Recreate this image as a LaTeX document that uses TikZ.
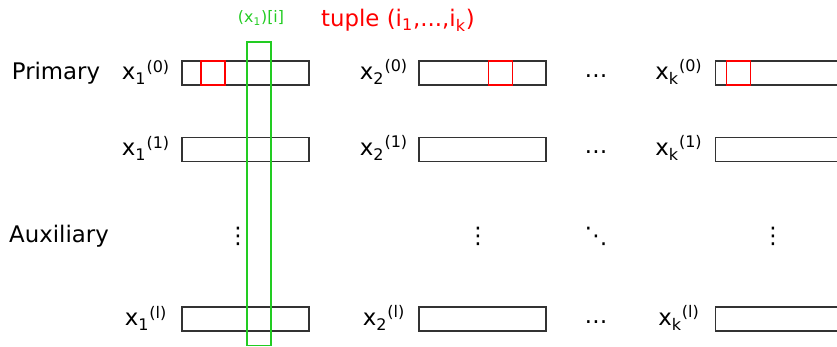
\documentclass[tikz,border=0pt]{standalone}
\usepackage{fontspec}
\setmainfont{DejaVu Sans}
\usepackage{tikz}
\definecolor{greenHTML}{HTML}{22CC22}
\definecolor{redHTML}{HTML}{FF0000}
\tikzset{
  share_box/.style={rectangle, draw=black!80, line width=0.6pt, minimum width=2.54cm, minimum height=0.48cm, inner sep=0pt},
  red_cell/.style={rectangle, draw=redHTML, line width=0.6pt, minimum width=0.48cm, minimum height=0.48cm, inner sep=0pt},
  green_col/.style={rectangle, draw=greenHTML, line width=0.6pt, minimum width=0.48cm, minimum height=6.08cm, inner sep=0pt},
  big_text/.style={font=\fontsize{13}{15}\selectfont, inner sep=0pt},
  small_text/.style={font=\fontsize{9}{11}\selectfont, inner sep=0pt}
}

\begin{document}
\begin{tikzpicture}[x=0.02cm, y=-0.02cm]
        \useasboundingbox (0, 0) rectangle (837, 347);
        \clip (0, 0) rectangle (837, 347);
        \node[big_text] (prim) at (56, 73) {Primary};
        \node[big_text] (aux) at (59, 236) {Auxiliary};
        \node[big_text] (l10) at (146, 72) {x\textsubscript{1}\textsuperscript{(0)}};
        \node[big_text] (l11) at (146, 148) {x\textsubscript{1}\textsuperscript{(1)}};
        \node[big_text] (l1l) at (146, 318) {x\textsubscript{1}\textsuperscript{(l)}};
        \node[big_text] (l20) at (384, 72) {x\textsubscript{2}\textsuperscript{(0)}};
        \node[big_text] (l21) at (384, 148) {x\textsubscript{2}\textsuperscript{(1)}};
        \node[big_text] (l2l) at (384, 318) {x\textsubscript{2}\textsuperscript{(l)}};
        \node[big_text] (lk0) at (679, 72) {x\textsubscript{k}\textsuperscript{(0)}};
        \node[big_text] (lk1) at (679, 148) {x\textsubscript{k}\textsuperscript{(1)}};
        \node[big_text] (lkl) at (679, 318) {x\textsubscript{k}\textsuperscript{(l)}};
        \node[share_box] (b10) at (245.5, 73) {};
        \node[share_box] (b11) at (245.5, 149.5) {};
        \node[share_box] (b1l) at (245.5, 319) {};
        \node[share_box] (b20) at (482.5, 73) {};
        \node[share_box] (b21) at (482.5, 149.5) {};
        \node[share_box] (b2l) at (482.5, 319) {};
        \node[share_box] (bk0) at (778.5, 73) {};
        \node[share_box] (bk1) at (778.5, 149.5) {};
        \node[share_box] (bkl) at (778.5, 319) {};
        \node[big_text] (d0) at (596, 76) {\dots};
        \node[big_text] (d1) at (596, 152) {\dots};
        \node[big_text] (dl) at (596, 322) {\dots};
        \node[big_text] (v1) at (238, 236) {⋮};
        \node[big_text] (v2) at (478, 236) {⋮};
        \node[big_text] (vk) at (773, 236) {⋮};
        \node[big_text] (dd) at (596, 236) {⋱};
        \node[red_cell] (c1) at (213, 73) {};
        \node[red_cell] (c2) at (500.5, 73) {};
        \node[red_cell] (ck) at (738.5, 73) {};
        \node[green_col] (col) at (259, 194) {};
        \node[small_text, text=greenHTML] (colname) at (261, 18) {(x\textsubscript{1})[i]};
        \node[big_text, text=redHTML] (tuple) at (398, 20) {tuple (i\textsubscript{1},...,i\textsubscript{k})};
\end{tikzpicture}
\end{document}
